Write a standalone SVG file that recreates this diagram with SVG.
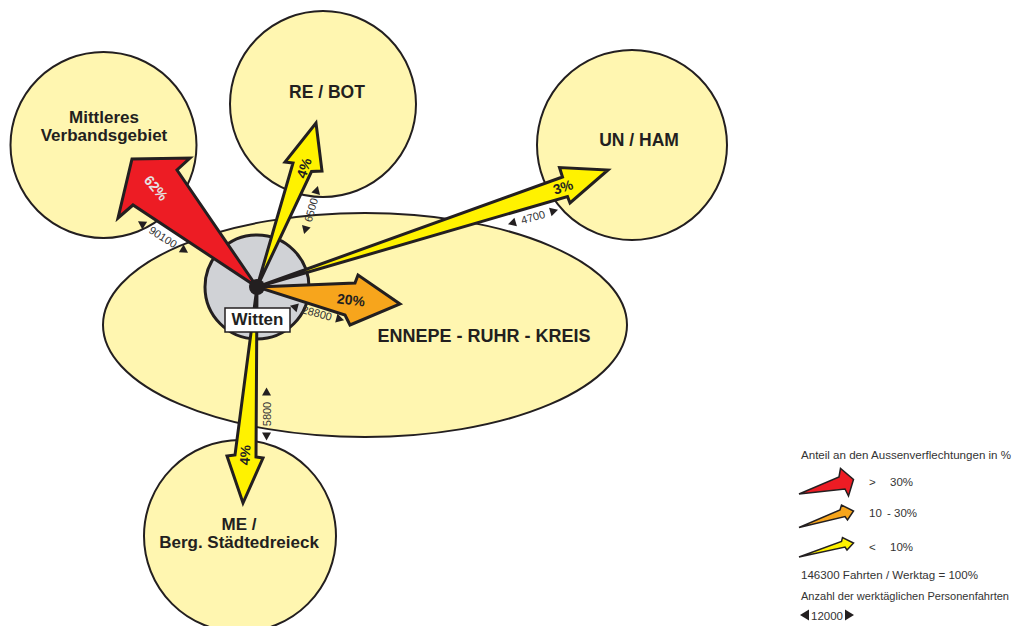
<svg xmlns="http://www.w3.org/2000/svg" width="1014" height="626" viewBox="0 0 1014 626">
<style>
.zone{fill:#FFF6B0;stroke:#231F20;stroke-width:2}
.lbl{font-family:"Liberation Sans",Arial,sans-serif;font-weight:bold;font-size:17px;fill:#231F20;text-anchor:middle}
.arr{stroke:#231F20;stroke-width:3;stroke-linejoin:miter;stroke-miterlimit:10}
.larr{stroke:#231F20;stroke-width:1.5;stroke-linejoin:miter}
.red{fill:#ED1C24}.org{fill:#F7A51C}.yel{fill:#FFF200}
.pct{font-family:"Liberation Sans",Arial,sans-serif;font-weight:bold;font-size:14px;fill:#231F20;text-anchor:middle}
.num{font-family:"Liberation Sans",Arial,sans-serif;font-size:11px;fill:#333;text-anchor:middle}
.tri{fill:#231F20}
.leg{font-family:"Liberation Sans",Arial,sans-serif;font-size:11.5px;fill:#333}
</style>
<rect width="1014" height="626" fill="#fff"/>
<g id="node-mittleres"><circle class="zone" cx="103.5" cy="145" r="93"/>
<text class="lbl" x="104" y="123">Mittleres</text><text class="lbl" x="104" y="141">Verbandsgebiet</text></g>
<g id="node-rebot"><circle class="zone" cx="323" cy="104" r="93"/>
<text class="lbl" x="327" y="98" style="font-size:17.5px">RE / BOT</text></g>
<g id="node-unham"><circle class="zone" cx="632" cy="145" r="95"/>
<text class="lbl" x="639" y="146" style="font-size:17.5px">UN / HAM</text></g>
<g id="node-me"><circle class="zone" cx="240" cy="536" r="96"/>
<text class="lbl" x="239" y="530">ME /</text><text class="lbl" x="239" y="548">Berg. Städtedreieck</text></g>
<g id="node-enneperuhr"><ellipse class="zone" cx="365" cy="325" rx="262" ry="112"/>
<text class="lbl" x="484" y="342" style="font-size:18px">ENNEPE - RUHR - KREIS</text></g>
<g id="node-witten-area"><circle cx="257" cy="287" r="52" fill="#D0D2D6" stroke="#231F20" stroke-width="3"/></g>
<g id="connectors">
<polygon class="arr red" points="257,287 133,205 118,218 132,159 190,158 177,170"/>
<polygon class="arr yel" points="257,287 293,163 285,162 316,123 322,171 311.5,171.5"/>
<polygon class="arr yel" points="257,287 562.5,177 559.5,167.5 608,170 570,203 567.5,196.5"/>
<polygon class="arr org" points="257,287 355,283 358,275 400,304 350,325 345,315"/>
<polygon class="arr yel" points="257,287 256,457 263,458 243,503 227,456 235,455"/>
<text class="pct" transform="translate(156,188) rotate(50)" dy="0.35em" style="fill:#E4E4E4">62%</text>
<text class="pct" transform="translate(304,168) rotate(-70)" dy="0.35em">4%</text>
<text class="pct" transform="translate(563,187) rotate(-18)" dy="0.35em">3%</text>
<text class="pct" transform="translate(351,300) rotate(7)" dy="0.35em">20%</text>
<text class="pct" transform="translate(245,455) rotate(-86)" dy="0.35em">4%</text>
<g transform="translate(163,237) rotate(32)"><path class="tri" d="M-29.5,0 l8,-4.5 v9z"/><text class="num" y="4">90100</text><path class="tri" d="M29.5,0 l-8,-4.5 v9z"/></g>
<g transform="translate(311,210) rotate(-74)"><path class="tri" d="M-25,0 l8,-4.5 v9z"/><text class="num" y="4">6500</text><path class="tri" d="M25,0 l-8,-4.5 v9z"/></g>
<g transform="translate(533,217) rotate(-16)"><path class="tri" d="M-26,0 l8,-4.5 v9z"/><text class="num" y="4">4700</text><path class="tri" d="M26,0 l-8,-4.5 v9z"/></g>
<g transform="translate(266.5,414) rotate(-90)"><path class="tri" d="M-26.5,0 l8,-4.5 v9z"/><text class="num" y="4">5800</text><path class="tri" d="M26.5,0 l-8,-4.5 v9z"/></g>
<g transform="translate(317,313) rotate(15)"><path class="tri" d="M-28,0 l8,-4.5 v9z"/><text class="num" y="4">28800</text><path class="tri" d="M28,0 l-8,-4.5 v9z"/></g>
</g>
<g id="node-witten">
<circle cx="257" cy="287" r="8" fill="#231F20"/>
<rect x="225" y="308" width="65" height="24" fill="#fff" stroke="#231F20" stroke-width="1.5"/>
<text class="lbl" x="257.5" y="325">Witten</text>
</g>
<g id="legend">
<text class="leg" x="801" y="459" textLength="210" lengthAdjust="spacingAndGlyphs">Anteil an den Aussenverflechtungen in %</text>
<polygon class="larr red" points="799,494 839,477 840.5,468.5 853.5,479.5 848.5,496 845,489"/>
<polygon class="larr org" points="799,527.5 840,510 841.5,505 853.5,511 847.5,520 845,516.5"/>
<polygon class="larr yel" points="799,557 841.5,541.5 842.5,537.5 853.5,543 847,550 845,547"/>
<text class="leg" x="869" y="486">&gt;</text><text class="leg" x="890" y="486">30%</text>
<text class="leg" x="869" y="517">10</text><text class="leg" x="887" y="517">- 30%</text>
<text class="leg" x="869" y="551">&lt;</text><text class="leg" x="890" y="551">10%</text>
<text class="leg" x="801" y="579" textLength="177" lengthAdjust="spacingAndGlyphs">146300 Fahrten / Werktag = 100%</text>
<text class="leg" x="801" y="600" style="font-size:11px" textLength="208" lengthAdjust="spacingAndGlyphs">Anzahl der werktäglichen Personenfahrten</text>
<path class="tri" d="M800,615 l9,-5.5 v11z"/>
<text class="leg" x="811" y="619.5">12000</text>
<path class="tri" d="M854,615 l-9,-5.5 v11z"/>
</g>
</svg>
